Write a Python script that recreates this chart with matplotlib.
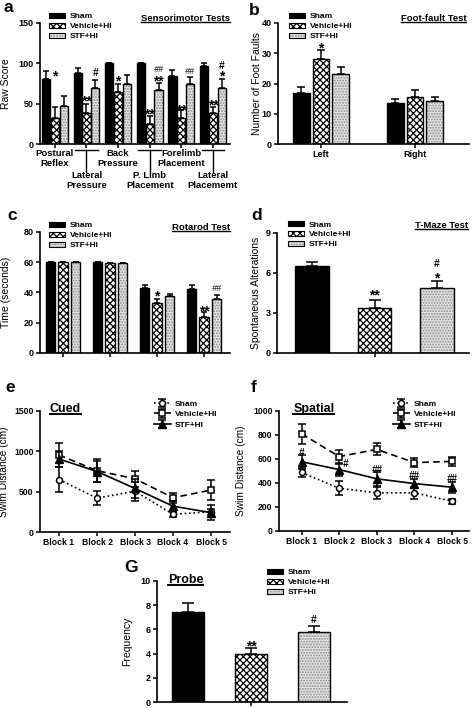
import matplotlib
matplotlib.use('Agg')
import matplotlib.pyplot as plt
import numpy as np
from matplotlib.lines import Line2D
from matplotlib.patches import Patch
import matplotlib.transforms as mtransforms

plt.rcParams['font.family'] = ['Liberation Sans', 'DejaVu Sans']
plt.rcParams['hatch.linewidth'] = 0.9

# ---------------- data ----------------
groups = ['Sham', 'Vehicle+HI', 'STF+HI']

a_tests = ['Postural\nReflex', 'Lateral\nPressure', 'Back\nPressure',
           'P. Limb\nPlacement', 'Forelimb\nPlacement', 'Lateral\nPlacememt']
a_sham = [81, 88, 100, 100, 84, 97]
a_sham_err = [9, 6, 0, 0, 8, 3]
a_veh = [32, 38, 65, 25, 32, 38]
a_veh_err = [14, 12, 10, 10, 10, 8]
a_stf = [47, 69, 75, 67, 75, 69]
a_stf_err = [13, 10, 11, 9, 8, 12]
a_marks = [(0, 1, '*', 88), (1, 1, '**', 57), (1, 2, '#', 89), (2, 1, '*', 82),
           (3, 1, '**', 42), (3, 2, '**', 82), (3, 2, '##', 93), (4, 1, '**', 46),
           (4, 2, '##', 91), (5, 1, '**', 53), (5, 2, '*', 88), (5, 2, '#', 98)]

b_sides = ['Left', 'Right']
b_sham = [17, 13.5]
b_sham_err = [1.8, 1.5]
b_veh = [28, 15.5]
b_veh_err = [3, 2.2]
b_stf = [23, 14.3]
b_stf_err = [2.5, 1.4]
b_marks = [(0, 1, '*', 33)]

c_days = ['1', '2', '3', '4']
c_sham = [60, 60, 43, 42]
c_sham_err = [0, 0.3, 2, 3]
c_veh = [60, 59.5, 33, 23.5]
c_veh_err = [0, 0, 3, 3.5]
c_stf = [60, 59.5, 37.5, 35.5]
c_stf_err = [0, 0, 1.5, 3]
c_marks = [(2, 1, '*', 40), (3, 1, '**', 30), (3, 2, '##', 43)]

d_vals = [6.5, 3.4, 4.9]
d_err = [0.3, 0.6, 0.5]
d_marks = [(1, '**', 4.6), (2, '*', 5.9), (2, '#', 6.75)]

blocks = ['Block 1', 'Block 2', 'Block 3', 'Block 4', 'Block 5']
e_sham = [650, 420, 505, 220, 250]
e_sham_err = [160, 90, 120, 30, 40]
e_veh = [955, 760, 660, 425, 520]
e_veh_err = [145, 140, 100, 60, 125]
e_stf = [905, 750, 540, 320, 240]
e_stf_err = [100, 130, 120, 60, 95]

f_sham = [488, 356, 318, 318, 248]
f_sham_err = [40, 60, 50, 50, 20]
f_veh = [810, 620, 680, 570, 580]
f_veh_err = [85, 55, 50, 40, 40]
f_stf = [577, 512, 435, 395, 365]
f_stf_err = [60, 50, 60, 40, 45]
f_marks = [(0, '#', 655, 0.0), (1, '#', 565, 0.17), (2, '##', 515, 0.0),
           (3, '##', 465, 0.0), (4, '##', 440, 0.0)]

g_vals = [7.4, 4.0, 5.8]
g_err = [0.8, 0.45, 0.5]
g_marks = [(1, '**', 4.95), (2, '#', 6.85)]

# ---------------- styling ----------------
W, H = 472, 708
fig = plt.figure(figsize=(W / 100, H / 100), dpi=100)

STY = {'Sham': ('black', None, 'black'),
       'Vehicle+HI': ('white', 'xxxxx', 'black'),
       'STF+HI': ('#e2e2e2', '......', '#8c8c8c')}

titles = []


def add_ax(x0, y_top, x1, y_bot):
    ax = fig.add_axes([x0 / W, 1 - y_bot / H, (x1 - x0) / W, (y_bot - y_top) / H])
    for s in ['top', 'right']:
        ax.spines[s].set_visible(False)
    for s in ['left', 'bottom']:
        ax.spines[s].set_linewidth(1.2)
    ax.tick_params(axis='both', direction='out', length=3, width=1.1, labelsize=6.5, pad=1.5)
    return ax


def bold_ticks(ax, fs=6.5):
    for lab in ax.get_yticklabels() + ax.get_xticklabels():
        lab.set_fontweight('bold')
        lab.set_fontsize(fs)


def draw_bars(ax, x, vals, errs, grp, width, capsize, elw=1.1):
    face, hatch, hcol = STY[grp]
    ax.bar(x, vals, width, color=face, edgecolor=hcol, hatch=hatch, linewidth=0, zorder=2)
    ax.bar(x, vals, width, fill=False, edgecolor='black', linewidth=1.0, zorder=3)
    ax.errorbar(x, vals, yerr=[np.zeros(len(errs)), errs], fmt='none', ecolor='black',
                elinewidth=elw, capsize=capsize, capthick=elw, zorder=1)


def bar_legend(ax, x, y, fs=6):
    handles = []
    for g in groups:
        face, hatch, hcol = STY[g]
        handles.append((Patch(facecolor=face, edgecolor=hcol, hatch=hatch, linewidth=0),
                        Patch(fill=False, edgecolor='black', linewidth=0.8)))
    ax.legend(handles, groups, loc='upper left', bbox_to_anchor=(x, y), frameon=False,
              prop={'size': fs, 'weight': 'bold'}, handlelength=1.9, handleheight=0.6,
              labelspacing=0.28, handletextpad=0.6, borderpad=0, borderaxespad=0)


def mark(ax, x, yc, s, fs=None, style='normal', color='black'):
    if '*' in s:
        fs = fs or 10
        k = 0.57
    else:
        fs = fs or 7.5
        k = 0.36
    tr = mtransforms.offset_copy(ax.transData, fig=fig, y=-k * fs, units='points')
    ax.text(x, yc, s, transform=tr, ha='center', va='baseline', fontsize=fs,
            fontweight='bold', fontstyle=style, color=color, zorder=5)


def utitle(ax, x, y, s, ha, fs, lw=1.0):
    t = ax.text(x, y, s, transform=ax.transAxes, ha=ha, va='baseline', fontsize=fs,
                fontweight='bold')
    titles.append((t, lw))


def panel_label(x, y_base, s):
    fig.text(x / W, 1 - y_base / H, s, fontsize=12.5, fontweight='bold', va='baseline')


# ---------------- panel a ----------------
ax = add_ax(40, 23, 230, 144)
xa = np.arange(len(a_tests))
wa, oa = 0.26, 0.28
draw_bars(ax, xa - oa, a_sham, a_sham_err, 'Sham', wa, 2.5)
draw_bars(ax, xa, a_veh, a_veh_err, 'Vehicle+HI', wa, 2.5)
draw_bars(ax, xa + oa, a_stf, a_stf_err, 'STF+HI', wa, 2.5)
ax.set_xlim(-0.47, 5.54)
ax.set_ylim(0, 150)
ax.set_yticks([0, 50, 100, 150])
ax.set_xticks(xa)
ax.set_xticklabels([])
ax.set_ylabel('Raw Score', fontsize=7.5)
ax.yaxis.set_label_coords(-0.15, 0.5)
bold_ticks(ax)
for gi, si, s, yv in a_marks:
    if s == '##':
        mark(ax, xa[gi] + (si - 1) * oa, yv, s, fs=6.5, style='italic', color='#444444')
    else:
        mark(ax, xa[gi] + (si - 1) * oa, yv, s)
trb = mtransforms.blended_transform_factory(ax.transData, ax.transAxes)
for i, lab in enumerate(a_tests):
    if i % 2 == 0:
        ax.text(xa[i], -0.045, lab, transform=trb, ha='center', va='top', fontsize=6.8,
                fontweight='bold', linespacing=1.05)
    else:
        ax.add_line(Line2D([xa[i] - 0.36, xa[i] + 0.36], [-0.05, -0.05], transform=trb,
                           color='black', lw=1.0, clip_on=False))
        ax.add_line(Line2D([xa[i], xa[i]], [-0.05, -0.23], transform=trb,
                           color='black', lw=1.0, clip_on=False))
        ax.text(xa[i], -0.225, lab, transform=trb, ha='center', va='top', fontsize=6.8,
                fontweight='bold', linespacing=1.05)
bar_legend(ax, 0.047, 1.085)
utitle(ax, 1.0, 1.02, 'Sensorimotor Tests', 'right', 6.8)
panel_label(4, 12, 'a')

# ---------------- panel b ----------------
ax = add_ax(278, 23, 469, 144)
xb = np.arange(len(b_sides))
wb, ob = 0.18, 0.21
draw_bars(ax, xb - ob, b_sham, b_sham_err, 'Sham', wb, 3)
draw_bars(ax, xb, b_veh, b_veh_err, 'Vehicle+HI', wb, 3)
draw_bars(ax, xb + ob, b_stf, b_stf_err, 'STF+HI', wb, 3)
ax.set_xlim(-0.457, 1.574)
ax.set_ylim(0, 40)
ax.set_yticks([0, 10, 20, 30, 40])
ax.set_xticks(xb)
ax.set_xticklabels(b_sides)
ax.set_ylabel('Number of Foot Faults', fontsize=7.5)
ax.yaxis.set_label_coords(-0.085, 0.5)
bold_ticks(ax)
for gi, si, s, yv in b_marks:
    mark(ax, xb[gi] + (si - 1) * ob, yv, s)
bar_legend(ax, 0.058, 1.085)
utitle(ax, 0.985, 1.02, 'Foot-fault Test', 'right', 6.8)
panel_label(249, 15, 'b')

# ---------------- panel c ----------------
ax = add_ax(40, 232, 230, 353)
xc = np.arange(len(c_days))
wc, oc = 0.2, 0.266
draw_bars(ax, xc - oc, c_sham, c_sham_err, 'Sham', wc, 2.5)
draw_bars(ax, xc, c_veh, c_veh_err, 'Vehicle+HI', wc, 2.5)
draw_bars(ax, xc + oc, c_stf, c_stf_err, 'STF+HI', wc, 2.5)
ax.set_xlim(-0.49, 3.55)
ax.set_ylim(0, 80)
ax.set_yticks([0, 20, 40, 60, 80])
ax.set_xticks(xc)
ax.set_xticklabels([])
ax.set_ylabel('Time (seconds)', fontsize=7.5)
ax.yaxis.set_label_coords(-0.15, 0.5)
bold_ticks(ax)
for gi, si, s, yv in c_marks:
    if s == '##':
        mark(ax, xc[gi] + (si - 1) * oc, yv, s, fs=6.5, style='italic', color='#444444')
    else:
        mark(ax, xc[gi] + (si - 1) * oc, yv, s)
bar_legend(ax, 0.047, 1.085)
utitle(ax, 1.0, 1.02, 'Rotarod Test', 'right', 6.8)
panel_label(7, 220, 'c')

# ---------------- panel d ----------------
ax = add_ax(277, 233, 469, 353)
xd = np.arange(len(groups))
for i, g in enumerate(groups):
    draw_bars(ax, [xd[i]], [d_vals[i]], [d_err[i]], g, 0.54, 4.5)
ax.set_xlim(-0.56, 2.51)
ax.set_ylim(0, 9)
ax.set_yticks([0, 3, 6, 9])
ax.set_xticks([1])
ax.set_xticklabels([])
ax.set_ylabel('Spontaneous Alterations', fontsize=7.5)
ax.yaxis.set_label_coords(-0.085, 0.5)
bold_ticks(ax)
for gi, s, yv in d_marks:
    mark(ax, xd[gi], yv, s)
bar_legend(ax, 0.058, 1.1)
utitle(ax, 0.995, 1.04, 'T-Maze Test', 'right', 6.8)
panel_label(251, 220, 'd')


# ---------------- panels e, f ----------------
def line_panel(ax, sham, sham_e, veh, veh_e, stf, stf_e):
    xx = np.arange(1, len(blocks) + 1)
    ax.errorbar(xx, sham, yerr=sham_e, color='black', ls=':', lw=1.2, marker='o', ms=4.3,
                mfc='white', mec='black', mew=1.1, capsize=2.8, elinewidth=1.1, capthick=1.1,
                zorder=3, label='Sham')
    ax.errorbar(xx, veh, yerr=veh_e, color='black', ls=(0, (4, 2.5)), lw=1.2, marker='s', ms=4.3,
                mfc='white', mec='black', mew=1.1, capsize=2.8, elinewidth=1.1, capthick=1.1,
                zorder=4, label='Vehicle+HI')
    ax.errorbar(xx, stf, yerr=stf_e, color='black', ls='-', lw=1.2, marker='^', ms=5.5,
                mfc='black', mec='black', capsize=2.8, elinewidth=1.1, capthick=1.1,
                zorder=5, label='STF+HI')
    ax.set_xticks(xx)
    ax.set_xticklabels(blocks)
    return xx


ax = add_ax(40, 411, 230, 532)
line_panel(ax, e_sham, e_sham_err, e_veh, e_veh_err, e_stf, e_stf_err)
ax.set_xlim(0.5, 5.5)
ax.set_ylim(0, 1500)
ax.set_yticks([0, 500, 1000, 1500])
ax.set_ylabel('Swim Distance (cm)', fontsize=7.3)
ax.yaxis.set_label_coords(-0.165, 0.5)
bold_ticks(ax, 6.2)
h, l = ax.get_legend_handles_labels()
ax.legend(h, l, loc='upper left', bbox_to_anchor=(0.6, 1.09), frameon=False,
          prop={'size': 6, 'weight': 'bold'}, handlelength=2.0, labelspacing=0.3,
          handletextpad=0.5, borderpad=0, borderaxespad=0)
utitle(ax, 0.05, 0.995, 'Cued', 'left', 9, lw=1.4)
panel_label(5, 392, 'e')

ax = add_ax(279, 411, 469, 531)
xf = line_panel(ax, f_sham, f_sham_err, f_veh, f_veh_err, f_stf, f_stf_err)
ax.set_xlim(0.4, 5.45)
ax.set_ylim(0, 1000)
ax.set_yticks([0, 200, 400, 600, 800, 1000])
ax.set_ylabel('Swim Distance (cm)', fontsize=7.3)
ax.yaxis.set_label_coords(-0.175, 0.5)
bold_ticks(ax, 6.2)
for bi, s, yv, dx in f_marks:
    mark(ax, xf[bi] + dx, yv, s, fs=7, style='italic', color='black')
h, l = ax.get_legend_handles_labels()
ax.legend(h, l, loc='upper left', bbox_to_anchor=(0.6, 1.09), frameon=False,
          prop={'size': 6, 'weight': 'bold'}, handlelength=2.0, labelspacing=0.3,
          handletextpad=0.5, borderpad=0, borderaxespad=0)
utitle(ax, 0.075, 0.99, 'Spatial', 'left', 9, lw=1.4)
panel_label(251, 392, 'f')

# ---------------- panel G ----------------
ax = add_ax(157, 581, 347, 702)
xg = np.arange(len(groups))
for i, g in enumerate(groups):
    draw_bars(ax, [xg[i]], [g_vals[i]], [g_err[i]], g, 0.51, 4.5)
ax.set_xlim(-0.49, 2.52)
ax.set_ylim(0, 10)
ax.set_yticks([0, 2, 4, 6, 8, 10])
ax.set_xticks([1])
ax.set_xticklabels([])
ax.set_ylabel('Frequency', fontsize=7.5)
ax.yaxis.set_label_coords(-0.13, 0.5)
bold_ticks(ax)
for gi, s, yv in g_marks:
    mark(ax, xg[gi], yv, s)
bar_legend(ax, 0.58, 1.1)
utitle(ax, 0.058, 0.986, 'Probe', 'left', 9, lw=1.4)
panel_label(124, 572, 'G')

# ---------------- underlines ----------------
fig.canvas.draw()
inv = fig.transFigure.inverted()
for t, lw in titles:
    bb = t.get_window_extent()
    (x0, y0), (x1, _) = inv.transform([(bb.x0, bb.y0 + 0.8), (bb.x1, bb.y0)])
    fig.add_artist(Line2D([x0, x1], [y0, y0], transform=fig.transFigure, color='black', lw=lw))

fig.savefig('out.png', dpi=100)
